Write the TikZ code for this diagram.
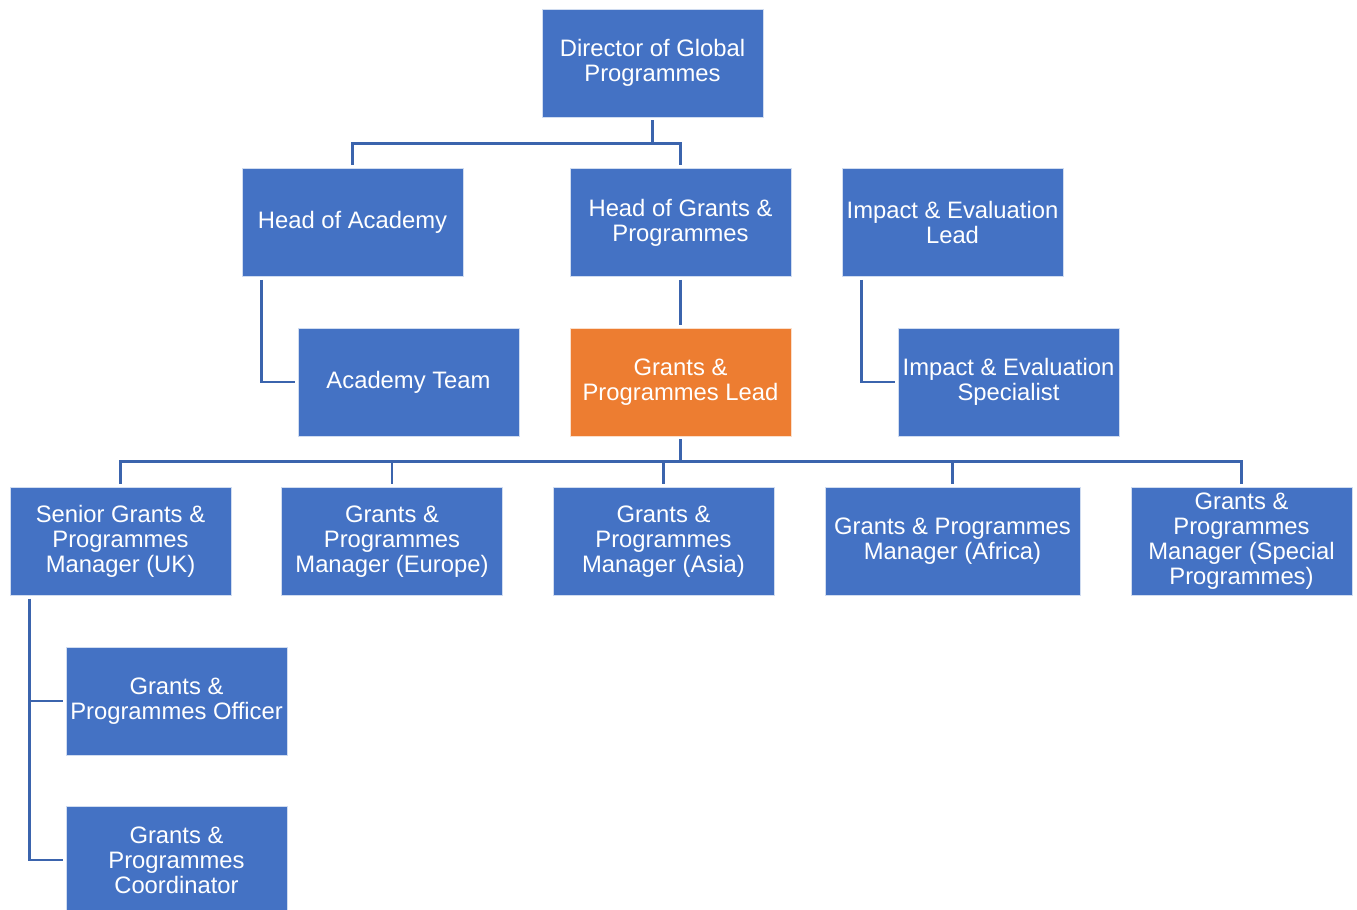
\documentclass[tikz,border=0pt]{standalone}
\usepackage{fontspec}
\setmainfont{Liberation Sans}
\definecolor{boxblue}{HTML}{4472C4}
\definecolor{boxorange}{HTML}{ED7D31}
\definecolor{linkblue}{HTML}{3B64AD}
\begin{document}
\begin{tikzpicture}[x=1pt,y=-1pt,
  orgbox/.style={rectangle, fill=boxblue, draw=white!75!boxblue, line width=0.8pt,
    text=white, align=center, inner sep=0pt, minimum width=221, minimum height=108,
    font=\fontsize{23.8}{25}\selectfont},
  link/.style={draw=linkblue, line width=2.4pt, shorten <=3pt, shorten >=3pt}]
\useasboundingbox[fill=white] (0,0) rectangle (1357,910);
\node[orgbox] (dir) at (652.5,63) {Director of Global\\Programmes};
\node[orgbox] (hoa) at (352.5,222.5) {Head of Academy};
\node[orgbox] (hog) at (680.5,222.5) {Head of Grants \&\\Programmes};
\node[orgbox] (iel) at (952.5,222.5) {Impact \& Evaluation\\Lead};
\node[orgbox] (acad) at (408.5,382) {Academy Team};
\node[orgbox, fill=boxorange, draw=white!75!boxorange] (lead) at (680.5,382) {Grants \&\\Programmes Lead};
\node[orgbox] (ies) at (1008.5,382) {Impact \& Evaluation\\Specialist};
\node[orgbox] (uk) at (120.5,541.5) {Senior Grants \&\\Programmes\\Manager (UK)};
\node[orgbox] (eu) at (392,541.5) {Grants \&\\Programmes\\Manager (Europe)};
\node[orgbox] (asia) at (663.5,541.5) {Grants \&\\Programmes\\Manager (Asia)};
\node[orgbox, minimum width=255] (afr) at (952.5,541.5) {Grants \& Programmes\\Manager (Africa)};
\node[orgbox] (spec) at (1241.5,541.5) {Grants \&\\Programmes\\Manager (Special\\Programmes)};
\node[orgbox] (off) at (176.5,701) {Grants \&\\Programmes Officer};
\node[orgbox] (coord) at (176.5,860) {Grants \&\\Programmes\\Coordinator};
% connectors
\draw[link] (dir.south) -- ++(0,26) -| (hoa.north);
\draw[link] (dir.south) -- ++(0,26) -| (hog.north);
\draw[link] ([xshift=20pt]hoa.south west) |- (acad.west);
\draw[link] (hog.south) -- (lead.north);
\draw[link] ([xshift=20pt]iel.south west) |- (ies.west);
\foreach \t in {uk,eu,asia,afr,spec}
  \draw[link] (lead.south) -- ++(0,25) -| (\t.north);
\draw[link] ([xshift=20pt]uk.south west) |- (off.west);
\draw[link] ([xshift=20pt]uk.south west) |- (coord.west);
\end{tikzpicture}
\end{document}
